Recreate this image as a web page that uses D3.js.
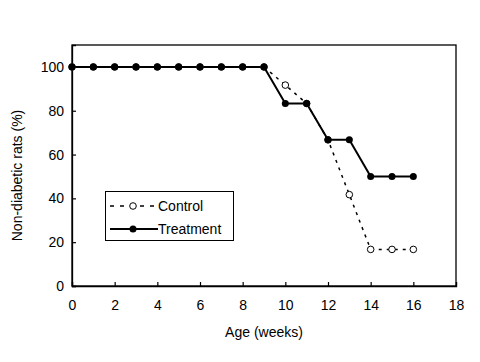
<!DOCTYPE html>
<html><head><meta charset="utf-8">
<script src="https://cdn.jsdelivr.net/npm/d3@7"></script>
<style>body{margin:0;background:#fff}svg{display:block}text{font-family:"Liberation Sans",Arial,sans-serif}</style>
</head><body><svg id="c" width="480" height="362"></svg>
<script>
const weeks = [0,1,2,3,4,5,6,7,8,9,10,11,12,13,14,15,16];
const control = [100,100,100,100,100,100,100,100,100,100,91.7,83.3,66.7,41.7,16.7,16.7,16.7];
const treatment = [100,100,100,100,100,100,100,100,100,100,83.3,83.3,66.7,66.7,50,50,50];
const xTicks = [0,2,4,6,8,10,12,14,16,18];
const yTicks = [0,20,40,60,80,100];

const svg = d3.select("#c");
const L=72, R=456, T=45, B=286;
const x = d3.scaleLinear().domain([0,18]).range([L,R]);
const y = d3.scaleLinear().domain([0,110]).range([B,T]);

svg.append("rect").attr("x",L).attr("y",T).attr("width",R-L).attr("height",B-T)
  .attr("fill","none").attr("stroke","#000").attr("stroke-width",1.3);

const xa = svg.append("g").attr("transform",`translate(0,${B})`)
  .call(d3.axisBottom(x).tickValues(xTicks).tickSize(-4).tickPadding(14).tickFormat(d3.format("d")));
const ya = svg.append("g").attr("transform",`translate(${L},0)`)
  .call(d3.axisLeft(y).tickValues(yTicks).tickSize(-4).tickPadding(8).tickFormat(d3.format("d")));
[xa,ya].forEach(a=>{
  a.select(".domain").attr("stroke","#000").attr("stroke-width",1.3);
  a.selectAll(".tick line").attr("stroke","#000").attr("stroke-width",1.2);
  a.selectAll(".tick text").attr("font-size",14).attr("fill","#000").attr("font-family","Liberation Sans, Arial, sans-serif");
});

svg.append("text").attr("x",(L+R)/2).attr("y",337).attr("text-anchor","middle")
  .attr("font-size",14).text("Age (weeks)");
svg.append("text").attr("transform",`translate(22,${(T+B)/2+10}) rotate(-90)`).attr("text-anchor","middle")
  .attr("font-size",14).text("Non-diabetic rats (%)");

const line = d3.line().x((d,i)=>x(weeks[i])).y(d=>y(d));
svg.append("path").datum(control).attr("d",line).attr("fill","none")
  .attr("stroke","#000").attr("stroke-width",1.5).attr("stroke-dasharray","3,5");
svg.append("path").datum(treatment).attr("d",line).attr("fill","none")
  .attr("stroke","#000").attr("stroke-width",2);
svg.selectAll(".cpt").data(control).enter().append("circle")
  .attr("cx",(d,i)=>x(weeks[i])).attr("cy",d=>y(d)).attr("r",3.3)
  .attr("fill","#fff").attr("stroke","#000").attr("stroke-width",1);
svg.selectAll(".tpt").data(treatment).enter().append("circle")
  .attr("cx",(d,i)=>x(weeks[i])).attr("cy",d=>y(d)).attr("r",3.5)
  .attr("fill","#000");

// legend
const lg = svg.append("g");
lg.append("rect").attr("x",105.5).attr("y",191.5).attr("width",128).attr("height",49)
  .attr("fill","#fff").attr("stroke","#000").attr("stroke-width",1);
lg.append("line").attr("x1",110).attr("x2",158).attr("y1",206).attr("y2",206)
  .attr("stroke","#000").attr("stroke-width",1.5).attr("stroke-dasharray","4,6");
lg.append("circle").attr("cx",133).attr("cy",206).attr("r",3.3).attr("fill","#fff").attr("stroke","#000");
lg.append("text").attr("x",158).attr("y",211).attr("font-size",14).text("Control");
lg.append("line").attr("x1",110).attr("x2",158).attr("y1",229).attr("y2",229)
  .attr("stroke","#000").attr("stroke-width",2);
lg.append("circle").attr("cx",133).attr("cy",229).attr("r",3.5).attr("fill","#000");
lg.append("text").attr("x",158).attr("y",234).attr("font-size",14).text("Treatment");
</script></body></html>
